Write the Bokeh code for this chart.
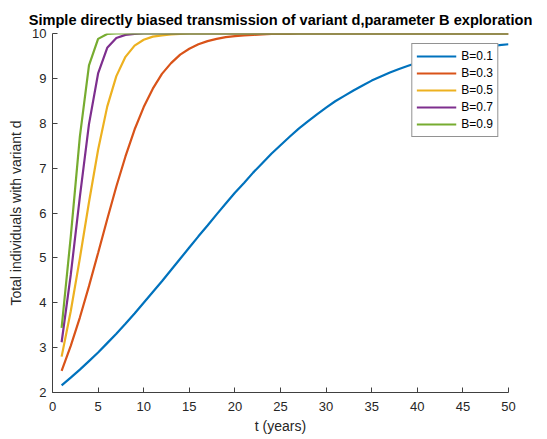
from bokeh.plotting import figure
from bokeh.models import Range1d, FixedTicker, Legend, LegendItem
from bokeh.embed import file_html
from bokeh.resources import INLINE

t = list(range(1, 51))

b01 = [2.16, 2.33, 2.51, 2.70, 2.89, 3.10, 3.31, 3.53, 3.76, 4.00,
       4.24, 4.48, 4.73, 4.98, 5.23, 5.48, 5.72, 5.97, 6.21, 6.45,
       6.67, 6.90, 7.11, 7.32, 7.51, 7.70, 7.88, 8.04, 8.20, 8.35,
       8.49, 8.61, 8.73, 8.84, 8.95, 9.04, 9.13, 9.21, 9.28, 9.35,
       9.41, 9.46, 9.51, 9.56, 9.60, 9.64, 9.68, 9.71, 9.74, 9.76]
b03 = [2.48, 3.04, 3.67, 4.37, 5.11, 5.86, 6.59, 7.26, 7.86, 8.36,
       8.77, 9.10, 9.34, 9.53, 9.66, 9.76, 9.83, 9.88, 9.92, 9.94,
       9.96, 9.97, 9.98, 9.99, 9.99, 9.99, 10.0, 10.0, 10.0, 10.0,
       10.0, 10.0, 10.0, 10.0, 10.0, 10.0, 10.0, 10.0, 10.0, 10.0,
       10.0, 10.0, 10.0, 10.0, 10.0, 10.0, 10.0, 10.0, 10.0, 10.0]
b05 = [2.80, 3.81, 4.99, 6.24, 7.41, 8.37, 9.05, 9.48, 9.73, 9.86,
       9.93, 9.96, 9.98, 9.99, 10.0, 10.0, 10.0, 10.0, 10.0, 10.0,
       10.0, 10.0, 10.0, 10.0, 10.0, 10.0, 10.0, 10.0, 10.0, 10.0,
       10.0, 10.0, 10.0, 10.0, 10.0, 10.0, 10.0, 10.0, 10.0, 10.0,
       10.0, 10.0, 10.0, 10.0, 10.0, 10.0, 10.0, 10.0, 10.0, 10.0]
b07 = [3.12, 4.62, 6.36, 7.98, 9.11, 9.68, 9.90, 9.97, 9.99, 10.0,
       10.0, 10.0, 10.0, 10.0, 10.0, 10.0, 10.0, 10.0, 10.0, 10.0,
       10.0, 10.0, 10.0, 10.0, 10.0, 10.0, 10.0, 10.0, 10.0, 10.0,
       10.0, 10.0, 10.0, 10.0, 10.0, 10.0, 10.0, 10.0, 10.0, 10.0,
       10.0, 10.0, 10.0, 10.0, 10.0, 10.0, 10.0, 10.0, 10.0, 10.0]
b09 = [3.44, 5.47, 7.70, 9.29, 9.88, 9.99, 10.0, 10.0, 10.0, 10.0,
       10.0, 10.0, 10.0, 10.0, 10.0, 10.0, 10.0, 10.0, 10.0, 10.0,
       10.0, 10.0, 10.0, 10.0, 10.0, 10.0, 10.0, 10.0, 10.0, 10.0,
       10.0, 10.0, 10.0, 10.0, 10.0, 10.0, 10.0, 10.0, 10.0, 10.0,
       10.0, 10.0, 10.0, 10.0, 10.0, 10.0, 10.0, 10.0, 10.0, 10.0]

labels = ["B=0.1", "B=0.3", "B=0.5", "B=0.7", "B=0.9"]
series = [b01, b03, b05, b07, b09]
colors = ["#0072BD", "#D95319", "#EDB120", "#7E2F8E", "#77AC30"]

x_ticks = [0, 5, 10, 15, 20, 25, 30, 35, 40, 45, 50]
y_ticks = [2, 3, 4, 5, 6, 7, 8, 9, 10]

FONT = "Liberation Sans"
AX = "#404040"

p = figure(frame_width=456, frame_height=359,
           x_range=Range1d(0, 50), y_range=Range1d(2, 10),
           output_backend="svg", toolbar_location=None,
           title="Simple directly biased transmission of variant d,parameter B exploration",
           min_border_left=52, min_border_right=39, min_border_top=33, min_border_bottom=47)

p.title.text_font = FONT
p.title.text_font_size = "14.6px"
p.title.text_font_style = "bold"
p.title.text_color = "#000000"
p.title.align = "center"
p.title.offset = -12
p.title.standoff = 12

p.grid.visible = False
p.outline_line_color = None
p.background_fill_color = "white"
p.border_fill_color = "white"

for ax in (p.xaxis[0], p.yaxis[0]):
    ax.axis_line_color = AX
    ax.major_tick_line_color = AX
    ax.minor_tick_line_color = None
    ax.major_tick_in = 5
    ax.major_tick_out = 0
    ax.major_label_text_font = FONT
    ax.major_label_text_font_size = "13px"
    ax.major_label_text_color = "#262626"
    ax.axis_label_text_font = FONT
    ax.axis_label_text_font_size = "14px"
    ax.axis_label_text_font_style = "normal"
    ax.axis_label_text_color = "#262626"

p.xaxis.ticker = FixedTicker(ticks=x_ticks)
p.yaxis.ticker = FixedTicker(ticks=y_ticks)
p.xaxis.axis_label = "t (years)"
p.yaxis.axis_label = "Total individuals with variant d"
p.xaxis.major_label_standoff = 9
p.yaxis.major_label_standoff = 6
p.xaxis.axis_label_standoff = 4
p.yaxis.axis_label_standoff = 5

items = []
for lab, ys, c in zip(labels, series, colors):
    r = p.line(t, ys, line_color=c, line_width=2.2)
    items.append(LegendItem(label=lab, renderers=[r]))

legend = Legend(items=items, location="top_right")
legend.margin = 10
legend.padding = 4
legend.spacing = 1
legend.label_height = 16
legend.glyph_height = 16
legend.glyph_width = 40
legend.label_standoff = 5
legend.label_text_font = FONT
legend.label_text_font_size = "12px"
legend.label_text_color = "#000000"
legend.border_line_color = "#262626"
legend.border_line_width = 1
legend.background_fill_color = "white"
legend.background_fill_alpha = 1
p.add_layout(legend, "center")

open("out.html", "w").write(file_html(p, INLINE))
